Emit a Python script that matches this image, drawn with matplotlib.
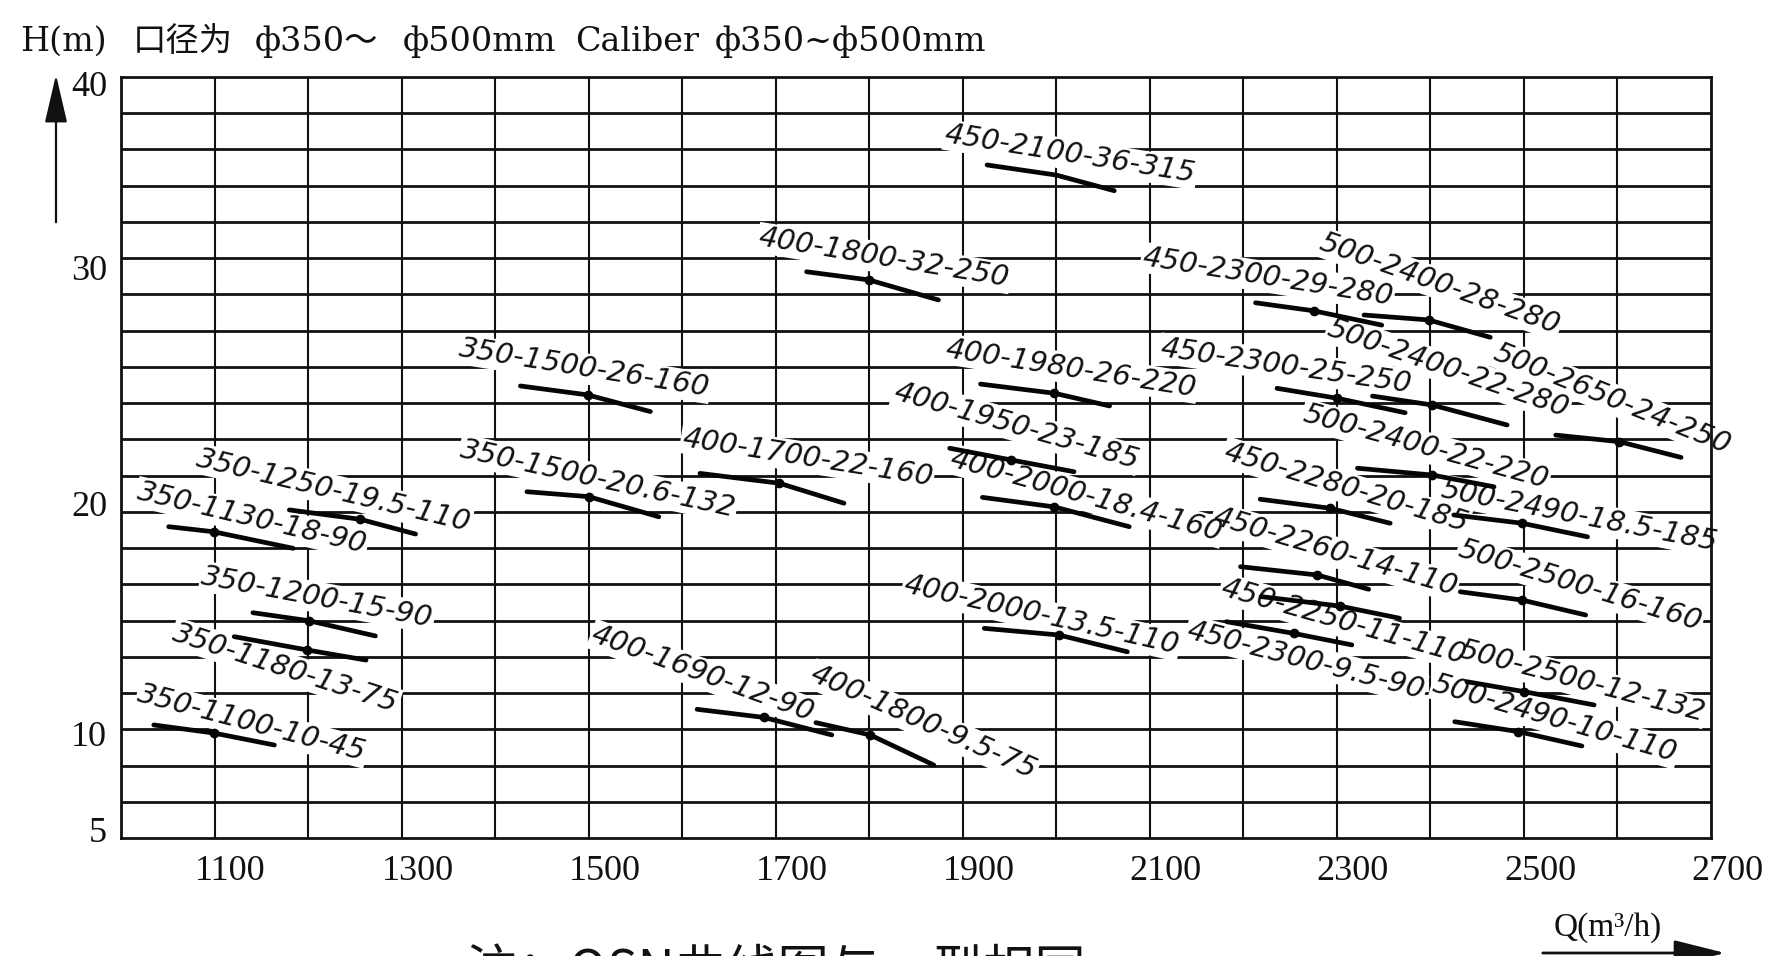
import numpy as np
import matplotlib
matplotlib.use("Agg")
import matplotlib.pyplot as plt
from matplotlib import transforms
from matplotlib.ticker import NullLocator

plt.rcParams['font.family'] = ['Liberation Serif', 'Noto Sans CJK SC', 'DejaVu Sans']

# ---------------- data ----------------
x_ticks = [1100, 1300, 1500, 1700, 1900, 2100, 2300, 2500, 2700]
y_ticks = [5, 10, 20, 30, 40]

model_names = [
    "350-1100-10-45", "350-1130-18-90", "350-1250-19.5-110", "350-1200-15-90",
    "350-1180-13-75", "350-1500-20.6-132", "450-2100-36-315", "400-1800-32-250",
    "350-1500-26-160", "400-1700-22-160", "400-1980-26-220", "400-1950-23-185",
    "400-2000-18.4-160", "400-2000-13.5-110", "400-1690-12-90", "400-1800-9.5-75",
    "450-2300-29-280", "500-2400-28-280", "450-2300-25-250", "500-2400-22-280",
    "500-2650-24-250", "500-2400-22-220", "450-2280-20-185", "500-2490-18.5-185",
    "450-2260-14-110", "500-2500-16-160", "450-2250-11-110", "450-2300-9.5-90",
    "500-2500-12-132", "500-2490-10-110",
]

# flow Q (m3/h): start, rated, end of each curve
q_points = [
    [1035, 1099, 1164], [1051, 1099, 1184], [1180, 1256, 1315], [1141, 1201, 1272],
    [1121, 1199, 1262], [1434, 1500, 1575], [1926, 2000, 2062], [1733, 1800, 1874],
    [1427, 1499, 1566], [1619, 1704, 1773], [1919, 1998, 2057], [1886, 1952, 2019],
    [1921, 1998, 2078], [1923, 2003, 2076], [1616, 1687, 1760], [1743, 1801, 1869],
    [2213, 2275, 2348], [2329, 2398, 2464], [2236, 2300, 2373], [2338, 2402, 2482],
    [2534, 2602, 2668], [2322, 2402, 2468], [2218, 2293, 2357], [2425, 2498, 2568],
    [2197, 2279, 2334], [2432, 2498, 2566], [2219, 2303, 2367], [2182, 2254, 2316],
    [2439, 2500, 2575], [2426, 2494, 2562],
]
# head H (m) at those points, as drawn
h_points = [
    [10.35, 10.00, 9.38], [18.97, 18.75, 18.03], [19.70, 19.29, 18.65], [15.23, 14.88, 14.22],
    [14.19, 13.61, 13.17], [20.48, 20.27, 19.40], [35.60, 35.05, 34.20], [29.84, 29.49, 28.64],
    [24.98, 24.60, 23.89], [21.26, 20.84, 19.99], [25.06, 24.67, 24.13], [22.33, 21.83, 21.33],
    [20.24, 19.83, 18.97], [14.55, 14.26, 13.53], [11.03, 10.68, 9.90], [10.45, 9.90, 8.35],
    [28.52, 28.18, 27.57], [28.00, 27.79, 27.05], [24.88, 24.46, 23.84], [24.55, 24.17, 23.32],
    [22.89, 22.61, 21.94], [21.48, 21.19, 20.69], [20.16, 19.77, 19.12], [19.48, 19.12, 18.53],
    [17.23, 16.87, 16.25], [16.14, 15.78, 15.13], [15.93, 15.52, 14.99], [14.84, 14.33, 13.83],
    [12.23, 11.80, 11.22], [10.49, 10.06, 9.33],
]
rated_marked = [True] * 30
rated_marked[6] = False

# ---------------- layout (label anchors, angles) ----------------
label_q = [1140, 1140, 1227, 1210, 1176, 1510, 2015, 1816,
           1495, 1734, 2016, 1957, 2032, 1984, 1622, 1858,
           2226, 2410, 2246, 2419, 2594, 2395, 2310, 2559,
           2298, 2560, 2307, 2267, 2562, 2533]
label_h = [10.41, 19.33, 20.54, 15.90, 12.81, 21.02, 36.17, 30.54,
           25.72, 21.93, 25.72, 23.28, 20.30, 15.12, 12.57, 10.46,
           29.61, 29.32, 25.82, 25.72, 24.43, 22.37, 20.64, 19.43,
           17.86, 16.39, 14.82, 13.16, 12.23, 10.61]
label_angle = [14.7, 13.3, 13.4, 10.5, 17.9, 12.3, 9.1, 9.4,
               9.1, 9.0, 9.0, 16.0, 15.5, 12.7, 20.0, 23.9,
               9.1, 19.6, 8.3, 18.9, 22.0, 15.4, 16.7, 11.0,
               16.4, 17.1, 15.8, 14.4, 14.7, 16.2]

# ---------------- scale (the printed H axis is not uniform) ----------------
H_KNOTS = np.array([5.0, 10.0, 20.0, 30.0, 40.0])
U_KNOTS = np.array([8.0, 105.0, 335.0, 570.0, 754.0])


def _pw(v, xs, ys):
    v = np.asarray(v, dtype=float)
    out = np.interp(v, xs, ys)
    s0 = (ys[1] - ys[0]) / (xs[1] - xs[0])
    s1 = (ys[-1] - ys[-2]) / (xs[-1] - xs[-2])
    out = np.where(v < xs[0], ys[0] + (v - xs[0]) * s0, out)
    out = np.where(v > xs[-1], ys[-1] + (v - xs[-1]) * s1, out)
    return out


def fwd(h):
    return _pw(h, H_KNOTS, U_KNOTS)


def inv(u):
    return _pw(u, U_KNOTS, H_KNOTS)


W, H = 1767, 956
fig = plt.figure(figsize=(W / 100, H / 100), dpi=100)
fig.patch.set_facecolor('white')
ax = fig.add_axes([121 / W, 1 - 838 / H, (1711 - 121) / W, (838 - 77) / H])
ax.set_yscale('function', functions=(fwd, inv))
ax.set_xlim(1000, 2700)
ax.set_ylim(float(inv(0.0)), float(inv(761.0)))

ink = '#111111'
for q in range(1100, 2700, 100):
    ax.axvline(q, color=ink, lw=1.5, zorder=1)
for i in range(1, 21):
    ax.axhline(float(inv(i * 761.0 / 21)), color=ink, lw=2.0, zorder=1)

for sp in ax.spines.values():
    sp.set_linewidth(2.0)
    sp.set_color(ink)

ax.set_xticks(x_ticks)
ax.set_xticklabels([str(v) for v in x_ticks])
ax.set_yticks(y_ticks)
ax.set_yticklabels([str(v) for v in y_ticks])
ax.yaxis.set_minor_locator(NullLocator())
ax.xaxis.set_minor_locator(NullLocator())
ax.tick_params(axis='both', length=0, labelsize=26, colors=ink)
ax.tick_params(axis='x', pad=12)
ax.tick_params(axis='y', pad=10)
shift = transforms.ScaledTranslation(0.16, 0, fig.dpi_scale_trans)
for lab in ax.get_xticklabels():
    lab.set_transform(lab.get_transform() + shift)

label_kw = dict(rotation_mode='anchor', ha='center', va='center', fontsize=21,
                family='DejaVu Sans', style='italic')
for name, qs, hs, mk, lq, lh, ang in zip(model_names, q_points, h_points,
                                         rated_marked, label_q, label_h, label_angle):
    # white knock-out behind the label (hides grid), then the label itself
    ax.text(lq, lh, name, rotation=-ang, color='none', zorder=1.5,
            bbox=dict(boxstyle='square,pad=0.05', fc='white', ec='none'), **label_kw)
    ax.text(lq, lh, name, rotation=-ang, color=ink, zorder=2.5, **label_kw)
    ax.plot(qs, hs, color='#050505', lw=3.4, solid_capstyle='round', zorder=3)
    if mk:
        ax.plot([qs[1]], [hs[1]], 'o', ms=6, color='#050505', zorder=4)

# title, set in pieces to follow the wide spacing of the print
title_parts = [("H(m)", 20), ("口径为", 133), ("ф350～", 255), ("ф500mm", 403),
               ("Caliber", 575), ("ф350~ф500mm", 715)]
for txt, px in title_parts:
    fig.text(px, H - 42, txt, transform=None, fontsize=24, va='center', ha='left',
             color=ink, family=['DejaVu Serif', 'Noto Sans CJK SC'])

# vertical axis arrow
ax.annotate('', xy=(56, H - 72), xytext=(56, H - 225), xycoords='figure pixels',
            textcoords='figure pixels', annotation_clip=False,
            arrowprops=dict(arrowstyle='-|>,head_length=1.5,head_width=0.35',
                            mutation_scale=20, color=ink, lw=1.6))

# Q label and arrow
fig.text(1608, 28, 'Q(m³/h)', transform=None, fontsize=24, ha='center',
         va='center', color=ink)
ax.annotate('', xy=(1728, 3), xytext=(1540, 3), xycoords='figure pixels',
            textcoords='figure pixels', annotation_clip=False,
            arrowprops=dict(arrowstyle='-|>,head_length=1.6,head_width=0.4',
                            mutation_scale=20, color=ink, lw=2))

# note at the bottom, cropped by the page edge as in the scan
fig.text(466, 11, '注：QSN曲线图与　型相同', transform=None, fontsize=37,
         va='top', ha='left', color=ink, family=['Noto Sans CJK SC', 'DejaVu Sans'])

fig.savefig('out.png', dpi=100, facecolor='white')
